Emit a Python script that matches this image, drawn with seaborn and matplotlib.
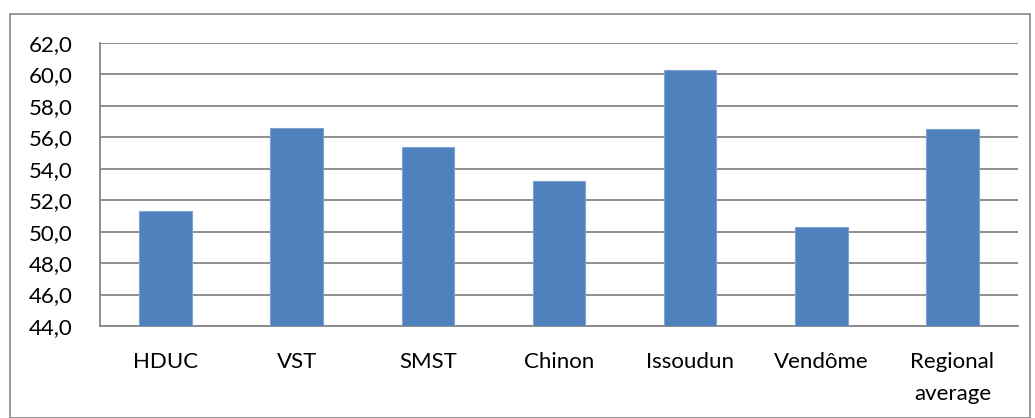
import matplotlib
matplotlib.use('Agg')
import matplotlib.pyplot as plt
import seaborn as sns
import pandas as pd
from matplotlib.patches import Rectangle
from matplotlib.ticker import MultipleLocator, FuncFormatter

sites = ['HDUC', 'VST', 'SMST', 'Chinon', 'Issoudun', 'Vendôme', 'Regional\naverage']
values = [51.3, 56.6, 55.4, 53.2, 60.3, 50.3, 56.5]

sns.set_theme(style="white")
plt.rcParams['font.family'] = ['Lato', 'DejaVu Sans']

df = pd.DataFrame({'site': sites, 'value': values})

fig = plt.figure(figsize=(10.35, 4.18), dpi=100)
ax = fig.add_axes([100 / 1035, 1 - 326 / 418, 918 / 1035, 283 / 418])

sns.barplot(x='site', y='value', data=df, color='#4F81BD', saturation=1,
            width=0.4, ax=ax, zorder=3)
for p in ax.patches:
    p.set_edgecolor('#7FA3D0')
    p.set_linewidth(0.8)

ax.set_ylim(44, 62)
ax.set_xlim(-0.5, len(sites) - 0.5)
ax.yaxis.set_major_locator(MultipleLocator(2))
ax.yaxis.set_major_formatter(FuncFormatter(lambda v, _: '{:.1f}'.format(v).replace('.', ',')))
ax.grid(axis='y', color='#868686', linewidth=1.3, zorder=0)
ax.set_axisbelow(True)

for side in ['top', 'right']:
    ax.spines[side].set_visible(False)
for side in ['left', 'bottom']:
    ax.spines[side].set_color('#868686')
    ax.spines[side].set_linewidth(1.3)

ax.set_xlabel('')
ax.set_ylabel('')

# category boundary ticks on x axis
ax.set_xticks(range(len(sites)))
ax.set_xticklabels(sites, linespacing=1.75)
ax.set_xticks([b - 0.5 for b in range(len(sites) + 1)], minor=True)
ax.tick_params(axis='x', which='minor', length=8, width=1.3, color='#868686')

ax.tick_params(axis='y', length=7, width=1.3, color='#868686', labelsize=16, pad=13, labelcolor='#000000')
ax.tick_params(axis='x', which='major', length=0, labelsize=16, pad=19, labelcolor='#000000')

# outer chart border
fig.patches.append(Rectangle((10 / 1035, 0), 1020 / 1035, 1 - 14 / 418, transform=fig.transFigure,
                             fill=False, edgecolor='#868686', linewidth=1.2))

fig.savefig('out.png', dpi=100)
